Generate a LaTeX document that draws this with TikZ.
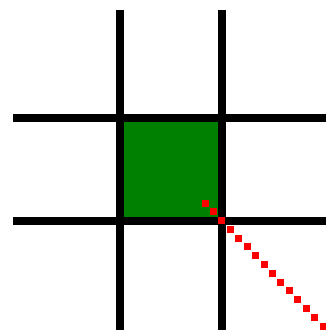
\documentclass[tikz,border=0pt]{standalone}
\usepackage{xcolor}
\usepackage{tikz}
\usetikzlibrary{positioning}

\definecolor{cellgreen}{RGB}{0,128,0}

\begin{document}
\begin{tikzpicture}[x=1pt, y=-1pt,
        gridline/.style = {line width=8pt, black},
        raydot/.style = {fill=red}]

            \useasboundingbox (0,0) rectangle (326,330);

            \fill[cellgreen] (120,118) rectangle (222,221); %cell

            \draw[gridline] (120,10) -- (120,330); %left
            \draw[gridline] (222,10) -- (222,330); %right
            \draw[gridline] (13,118) -- (326,118); %top
            \draw[gridline] (13,221) -- (326,221); %bottom

            % ray
            \foreach \i in {0,...,14}
                \fill[raydot] ({205+8.43*\i-3.5},{203+8.79*\i-3.5}) rectangle +(7,7);

        \end{tikzpicture}
\end{document}
